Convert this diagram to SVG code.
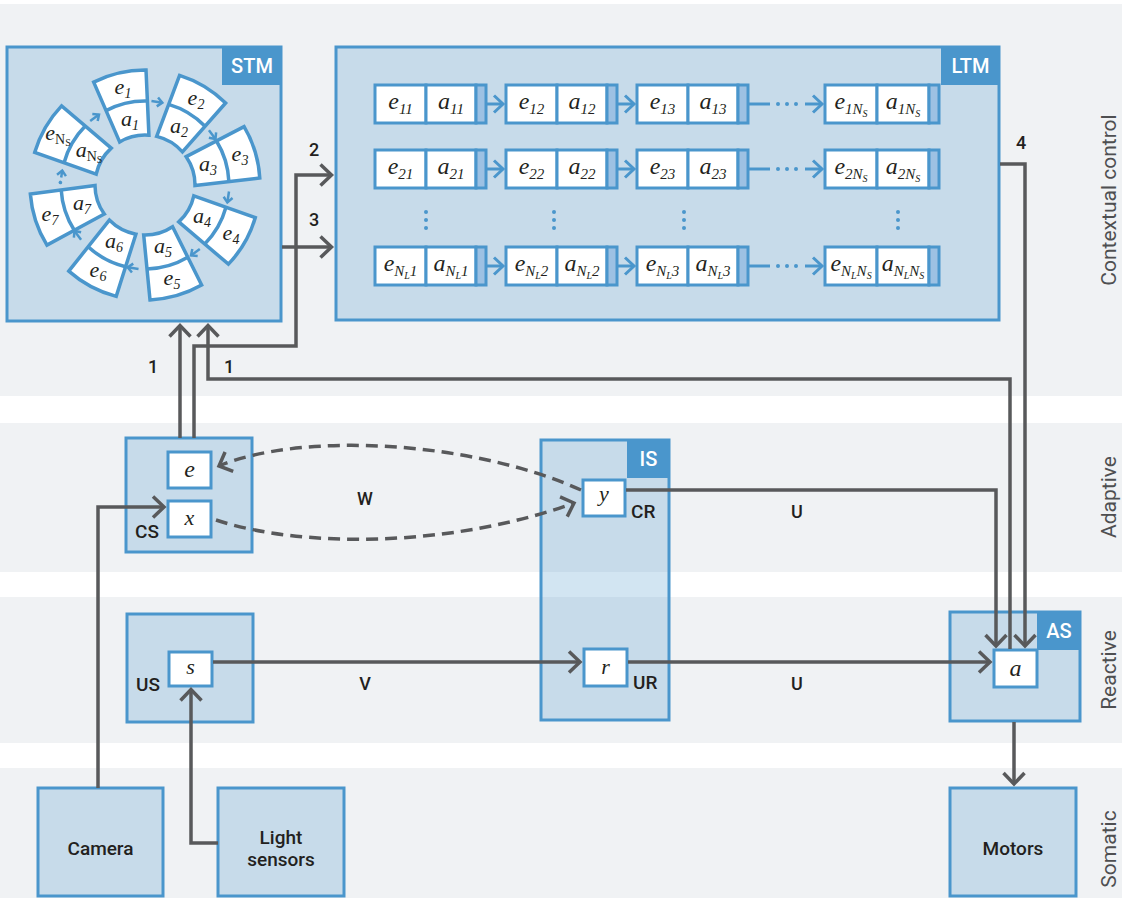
<svg xmlns="http://www.w3.org/2000/svg" xmlns:xlink="http://www.w3.org/1999/xlink" width="1122" height="898" viewBox="0 0 1122 898">
<defs>
<style>
.band{fill:#f0f2f4}
.node{fill:#4a96cc;fill-opacity:0.25;stroke:#4a96cc;stroke-width:3}
.tagbox{fill:#4a96cc}
.cell{fill:#fff;stroke:#4a96cc;stroke-width:3}
.bar{fill:#9dc1e3;stroke:#4a96cc;stroke-width:3}
.tile{fill:#fff;stroke:#4a96cc;stroke-width:3.5;stroke-linejoin:miter}
.div{fill:none;stroke:#4a96cc;stroke-width:3.5}
.blink{fill:none;stroke:#4a96cc;stroke-width:3}
.rlink{fill:none;stroke:#4a96cc;stroke-width:2.5}
.bdot{fill:#4a96cc}
.wire{fill:none;stroke:#58595b;stroke-width:3.5;stroke-linejoin:miter}
.dash{stroke-dasharray:12 7}
.sans{font-family:Roboto,"Liberation Sans",Arial,sans-serif}
.lbl{font-size:19px;font-weight:500;fill:#231f20}
.num{font-size:18px;font-weight:500;fill:#231f20;text-anchor:middle}
.tag{font-size:20px;font-weight:500;fill:#fff;text-anchor:middle}
.bandlbl{font-size:21px;fill:#4e4f51;text-anchor:middle}
.math{font-family:"Liberation Serif","Times New Roman",serif;font-style:italic;fill:#231f20;text-anchor:middle}
.m24{font-size:24px}
.m22{font-size:22px}
.sub{font-size:15px}
.ssub{font-size:10px}
.rsub{font-size:14px}
.up{font-style:normal}
</style>
<marker id="ah-gray" viewBox="-16 -16 32 32" markerWidth="32" markerHeight="32" refX="0" refY="0" orient="auto" markerUnits="userSpaceOnUse">
<path d="M -11 -10.5 L 0 0 L -11 10.5" fill="none" stroke="#58595b" stroke-width="3.5"/>
</marker>
<marker id="ah-blue" viewBox="-14 -14 28 28" markerWidth="28" markerHeight="28" refX="0" refY="0" orient="auto" markerUnits="userSpaceOnUse">
<path d="M -9 -8.5 L 0 0 L -9 8.5" fill="none" stroke="#4a96cc" stroke-width="3"/>
</marker>
<marker id="ah-ring" viewBox="-8 -8 16 16" markerWidth="16" markerHeight="16" refX="0" refY="0" orient="auto" markerUnits="userSpaceOnUse">
<path d="M -5 -4.5 L 0 0 L -5 4.5" fill="none" stroke="#4a96cc" stroke-width="2.5"/>
</marker>
<!-- one ring tile, pointing up, centred on the ring centre -->
<path id="tile" class="tile" d="M -15.04 -47.69 L -26.85 -111.82 A 115 115 0 0 1 26.85 -111.82 L 15.04 -47.69 A 50 50 0 0 0 -15.04 -47.69 Z"/>
<path id="tile-div" class="div" d="M -21.22 -81.23 A 84 84 0 0 1 21.22 -81.23"/>
</defs>

<rect x="0" y="0" width="1122" height="898" fill="#fff"/>

<!-- horizontal layers -->
<g id="bands">
<rect class="band" x="0" y="4" width="1122" height="392"/>
<rect class="band" x="0" y="423" width="1122" height="149"/>
<rect class="band" x="0" y="597" width="1122" height="146"/>
<rect class="band" x="0" y="768" width="1122" height="130"/>
</g>
<g id="band-labels" class="sans bandlbl">
<text transform="translate(1116 200) rotate(-90)">Contextual control</text>
<text transform="translate(1116 497) rotate(-90)">Adaptive</text>
<text transform="translate(1116 670) rotate(-90)">Reactive</text>
<text transform="translate(1116 849) rotate(-90)">Somatic</text>
</g>

<!-- short-term memory ring -->
<g id="stm">
<rect class="node" x="7" y="47" width="274" height="274"/>
<rect class="tagbox" x="222" y="46" width="60" height="39"/>
<text class="sans tag" x="252" y="73">STM</text>
<g transform="translate(145 185)">
<g transform="rotate(-13)"><use xlink:href="#tile"/><use xlink:href="#tile-div"/></g>
<g transform="rotate(31)"><use xlink:href="#tile"/><use xlink:href="#tile-div"/></g>
<g transform="rotate(73)"><use xlink:href="#tile"/><use xlink:href="#tile-div"/></g>
<g transform="rotate(120)"><use xlink:href="#tile"/><use xlink:href="#tile-div"/></g>
<g transform="rotate(164)"><use xlink:href="#tile"/><use xlink:href="#tile-div"/></g>
<g transform="rotate(208)"><use xlink:href="#tile"/><use xlink:href="#tile-div"/></g>
<g transform="rotate(252)"><use xlink:href="#tile"/><use xlink:href="#tile-div"/></g>
<g transform="rotate(300)"><use xlink:href="#tile"/><use xlink:href="#tile-div"/></g>
</g>
<g class="math m22">
<text x="123" y="94">e<tspan class="rsub" dy="4">1</tspan></text>
<text x="196" y="105">e<tspan class="rsub" dy="4">2</tspan></text>
<text x="240" y="161">e<tspan class="rsub" dy="4">3</tspan></text>
<text x="231" y="240">e<tspan class="rsub" dy="4">4</tspan></text>
<text x="172" y="285">e<tspan class="rsub" dy="4">5</tspan></text>
<text x="98" y="277">e<tspan class="rsub" dy="4">6</tspan></text>
<text x="50" y="221">e<tspan class="rsub" dy="4">7</tspan></text>
<text x="58" y="140">e<tspan class="rsub up" dy="4">N</tspan><tspan class="ssub up" dy="2">S</tspan></text>
<text x="130" y="126">a<tspan class="rsub" dy="4">1</tspan></text>
<text x="179" y="133">a<tspan class="rsub" dy="4">2</tspan></text>
<text x="208" y="171">a<tspan class="rsub" dy="4">3</tspan></text>
<text x="202" y="223">a<tspan class="rsub" dy="4">4</tspan></text>
<text x="163" y="253">a<tspan class="rsub" dy="4">5</tspan></text>
<text x="114" y="248">a<tspan class="rsub" dy="4">6</tspan></text>
<text x="82" y="210">a<tspan class="rsub" dy="4">7</tspan></text>
<text x="89" y="157">a<tspan class="rsub up" dy="4">N</tspan><tspan class="ssub up" dy="2">S</tspan></text>
</g>
<g id="stm-ring-links">
<path class="rlink" d="M -6 0 H 5" marker-end="url(#ah-ring)" transform="translate(157.4 101.9) rotate(8.5)"/>
<path class="rlink" d="M -6 0 H 5" marker-end="url(#ah-ring)" transform="translate(212.5 135) rotate(53.5)"/>
<path class="rlink" d="M -6 0 H 5" marker-end="url(#ah-ring)" transform="translate(228.1 197.4) rotate(98.5)"/>
<path class="rlink" d="M -6 0 H 5" marker-end="url(#ah-ring)" transform="translate(195 252.5) rotate(143.5)"/>
<path class="rlink" d="M -6 0 H 5" marker-end="url(#ah-ring)" transform="translate(132.6 268.1) rotate(188.5)"/>
<path class="rlink" d="M -6 0 H 5" marker-end="url(#ah-ring)" transform="translate(77.5 235) rotate(233.5)"/>
<g transform="translate(61.5 175.5) rotate(278.5)">
<circle class="bdot" cx="-7" cy="0" r="1.8"/>
<path class="rlink" d="M -2 0 H 5" marker-end="url(#ah-ring)"/>
</g>
<path class="rlink" d="M -6 0 H 5" marker-end="url(#ah-ring)" transform="translate(95 117.5) rotate(323.5)"/>
</g>
</g>

<!-- long-term memory: rows of event/action pairs -->
<g id="ltm">
<rect class="node" x="336" y="47" width="663" height="273"/>
<rect class="tagbox" x="941" y="46" width="59" height="39"/>
<text class="sans tag" x="970.5" y="73">LTM</text>

<g class="math m24">
<!-- row 1 -->
<g transform="translate(375 85)"><rect class="cell" width="51" height="38"/><rect class="cell" x="51" width="50" height="38"/><rect class="bar" x="101" width="10" height="38"/>
<text x="25.5" y="24">e<tspan class="sub" dy="5">11</tspan></text><text x="76" y="24">a<tspan class="sub" dy="5">11</tspan></text></g>
<g transform="translate(506 85)"><rect class="cell" width="51" height="38"/><rect class="cell" x="51" width="50" height="38"/><rect class="bar" x="101" width="10" height="38"/>
<text x="25.5" y="24">e<tspan class="sub" dy="5">12</tspan></text><text x="76" y="24">a<tspan class="sub" dy="5">12</tspan></text></g>
<g transform="translate(637 85)"><rect class="cell" width="51" height="38"/><rect class="cell" x="51" width="50" height="38"/><rect class="bar" x="101" width="10" height="38"/>
<text x="25.5" y="24">e<tspan class="sub" dy="5">13</tspan></text><text x="76" y="24">a<tspan class="sub" dy="5">13</tspan></text></g>
<g transform="translate(825 85)"><rect class="cell" width="52" height="38"/><rect class="cell" x="52" width="52" height="38"/><rect class="bar" x="104" width="10" height="38"/>
<text x="26" y="24">e<tspan class="sub" dy="5">1N</tspan><tspan class="ssub" dy="3">S</tspan></text><text x="78" y="24">a<tspan class="sub" dy="5">1N</tspan><tspan class="ssub" dy="3">S</tspan></text></g>
<!-- row 2 -->
<g transform="translate(375 150)"><rect class="cell" width="51" height="38"/><rect class="cell" x="51" width="50" height="38"/><rect class="bar" x="101" width="10" height="38"/>
<text x="25.5" y="24">e<tspan class="sub" dy="5">21</tspan></text><text x="76" y="24">a<tspan class="sub" dy="5">21</tspan></text></g>
<g transform="translate(506 150)"><rect class="cell" width="51" height="38"/><rect class="cell" x="51" width="50" height="38"/><rect class="bar" x="101" width="10" height="38"/>
<text x="25.5" y="24">e<tspan class="sub" dy="5">22</tspan></text><text x="76" y="24">a<tspan class="sub" dy="5">22</tspan></text></g>
<g transform="translate(637 150)"><rect class="cell" width="51" height="38"/><rect class="cell" x="51" width="50" height="38"/><rect class="bar" x="101" width="10" height="38"/>
<text x="25.5" y="24">e<tspan class="sub" dy="5">23</tspan></text><text x="76" y="24">a<tspan class="sub" dy="5">23</tspan></text></g>
<g transform="translate(825 150)"><rect class="cell" width="52" height="38"/><rect class="cell" x="52" width="52" height="38"/><rect class="bar" x="104" width="10" height="38"/>
<text x="26" y="24">e<tspan class="sub" dy="5">2N</tspan><tspan class="ssub" dy="3">S</tspan></text><text x="78" y="24">a<tspan class="sub" dy="5">2N</tspan><tspan class="ssub" dy="3">S</tspan></text></g>
<!-- last row -->
<g transform="translate(375 247)"><rect class="cell" width="51" height="38"/><rect class="cell" x="51" width="50" height="38"/><rect class="bar" x="101" width="10" height="38"/>
<text x="25.5" y="24">e<tspan class="sub" dy="5">N</tspan><tspan class="ssub" dy="3">L</tspan><tspan class="sub" dy="-3">1</tspan></text><text x="76" y="24">a<tspan class="sub" dy="5">N</tspan><tspan class="ssub" dy="3">L</tspan><tspan class="sub" dy="-3">1</tspan></text></g>
<g transform="translate(506 247)"><rect class="cell" width="51" height="38"/><rect class="cell" x="51" width="50" height="38"/><rect class="bar" x="101" width="10" height="38"/>
<text x="25.5" y="24">e<tspan class="sub" dy="5">N</tspan><tspan class="ssub" dy="3">L</tspan><tspan class="sub" dy="-3">2</tspan></text><text x="76" y="24">a<tspan class="sub" dy="5">N</tspan><tspan class="ssub" dy="3">L</tspan><tspan class="sub" dy="-3">2</tspan></text></g>
<g transform="translate(637 247)"><rect class="cell" width="51" height="38"/><rect class="cell" x="51" width="50" height="38"/><rect class="bar" x="101" width="10" height="38"/>
<text x="25.5" y="24">e<tspan class="sub" dy="5">N</tspan><tspan class="ssub" dy="3">L</tspan><tspan class="sub" dy="-3">3</tspan></text><text x="76" y="24">a<tspan class="sub" dy="5">N</tspan><tspan class="ssub" dy="3">L</tspan><tspan class="sub" dy="-3">3</tspan></text></g>
<g transform="translate(825 247)"><rect class="cell" width="52" height="38"/><rect class="cell" x="52" width="52" height="38"/><rect class="bar" x="104" width="10" height="38"/>
<text x="26" y="24">e<tspan class="sub" dy="5">N</tspan><tspan class="ssub" dy="3">L</tspan><tspan class="sub" dy="-3">N</tspan><tspan class="ssub" dy="3">S</tspan></text><text x="78" y="24">a<tspan class="sub" dy="5">N</tspan><tspan class="ssub" dy="3">L</tspan><tspan class="sub" dy="-3">N</tspan><tspan class="ssub" dy="3">S</tspan></text></g>
</g>

<!-- links along each row -->
<g id="ltm-links">
<path class="blink" d="M 486 104 H 503" marker-end="url(#ah-blue)"/>
<path class="blink" d="M 617 104 H 634" marker-end="url(#ah-blue)"/>
<path class="blink" d="M 748 104 H 770"/>
<path class="blink" d="M 805 104 H 822" marker-end="url(#ah-blue)"/>
<path class="blink" d="M 486 169 H 503" marker-end="url(#ah-blue)"/>
<path class="blink" d="M 617 169 H 634" marker-end="url(#ah-blue)"/>
<path class="blink" d="M 748 169 H 770"/>
<path class="blink" d="M 805 169 H 822" marker-end="url(#ah-blue)"/>
<path class="blink" d="M 486 266 H 503" marker-end="url(#ah-blue)"/>
<path class="blink" d="M 617 266 H 634" marker-end="url(#ah-blue)"/>
<path class="blink" d="M 748 266 H 770"/>
<path class="blink" d="M 805 266 H 822" marker-end="url(#ah-blue)"/>
</g>
<g id="ltm-ellipses">
<circle class="bdot" cx="778" cy="104" r="2"/><circle class="bdot" cx="787" cy="104" r="2"/><circle class="bdot" cx="796" cy="104" r="2"/>
<circle class="bdot" cx="778" cy="169" r="2"/><circle class="bdot" cx="787" cy="169" r="2"/><circle class="bdot" cx="796" cy="169" r="2"/>
<circle class="bdot" cx="778" cy="266" r="2"/><circle class="bdot" cx="787" cy="266" r="2"/><circle class="bdot" cx="796" cy="266" r="2"/>
<circle class="bdot" cx="426" cy="212" r="2"/><circle class="bdot" cx="426" cy="220" r="2"/><circle class="bdot" cx="426" cy="228" r="2"/>
<circle class="bdot" cx="554" cy="212" r="2"/><circle class="bdot" cx="554" cy="220" r="2"/><circle class="bdot" cx="554" cy="228" r="2"/>
<circle class="bdot" cx="684" cy="212" r="2"/><circle class="bdot" cx="684" cy="220" r="2"/><circle class="bdot" cx="684" cy="228" r="2"/>
<circle class="bdot" cx="898" cy="212" r="2"/><circle class="bdot" cx="898" cy="220" r="2"/><circle class="bdot" cx="898" cy="228" r="2"/>
</g>
</g>

<!-- adaptive layer -->
<g id="cs">
<rect class="node" x="126" y="438" width="126" height="114"/>
<rect class="cell" x="168" y="452" width="43" height="36"/>
<rect class="cell" x="168" y="501" width="43" height="36"/>
<text class="math m24" x="189.5" y="477">e</text>
<text class="math m22" x="189.5" y="525">x</text>
<text class="sans lbl" x="135" y="538">CS</text>
</g>
<g id="is">
<rect class="node" x="541" y="440" width="128" height="280"/>
<rect class="tagbox" x="627" y="439" width="43" height="39"/>
<text class="sans tag" x="648.5" y="466">IS</text>
<rect class="cell" x="583" y="480" width="42" height="36"/>
<text class="math m22" x="604" y="501">y</text>
<text class="sans lbl" x="631" y="518">CR</text>
<rect class="cell" x="584" y="649" width="43" height="37"/>
<text class="math m22" x="605.5" y="674">r</text>
<text class="sans lbl" x="633" y="689">UR</text>
</g>

<!-- reactive layer -->
<g id="us">
<rect class="node" x="127" y="614" width="126" height="108"/>
<rect class="cell" x="169" y="652" width="43" height="34"/>
<text class="math m22" x="190.5" y="674">s</text>
<text class="sans lbl" x="136" y="691">US</text>
</g>
<g id="as">
<rect class="node" x="950" y="612" width="130" height="109"/>
<rect class="tagbox" x="1037" y="611" width="44" height="39"/>
<text class="sans tag" x="1059" y="638">AS</text>
<rect class="cell" x="994" y="650" width="43" height="37"/>
<text class="math m24" x="1015.5" y="676">a</text>
</g>

<!-- somatic layer -->
<g id="camera">
<rect class="node" x="38" y="788" width="125" height="108"/>
<text class="sans lbl" x="100.5" y="855" text-anchor="middle">Camera</text>
</g>
<g id="light-sensors">
<rect class="node" x="218" y="788" width="126" height="108"/>
<text class="sans lbl" x="281" y="844" text-anchor="middle">Light</text>
<text class="sans lbl" x="281" y="866" text-anchor="middle">sensors</text>
</g>
<g id="motors">
<rect class="node" x="950" y="788" width="126" height="108"/>
<text class="sans lbl" x="1013" y="855" text-anchor="middle">Motors</text>
</g>

<!-- connectors -->
<g id="connectors">
<path class="wire" d="M 180 438 V 325.5" marker-end="url(#ah-gray)"/>
<path class="wire" d="M 194 438 V 346 H 296 V 175 H 331.5" marker-end="url(#ah-gray)"/>
<path class="wire" d="M 1010 649 V 379 H 208 V 325.5" marker-end="url(#ah-gray)"/>
<path class="wire" d="M 282 247 H 331.5" marker-end="url(#ah-gray)"/>
<path class="wire" d="M 1000 164 H 1025 V 646" marker-end="url(#ah-gray)"/>
<path class="wire" d="M 626 490 H 996 V 646" marker-end="url(#ah-gray)"/>
<path class="wire" d="M 98 788 V 507 H 164" marker-end="url(#ah-gray)"/>
<path class="wire" d="M 218 843 H 191 V 689.5" marker-end="url(#ah-gray)"/>
<path class="wire" d="M 213 662 H 580" marker-end="url(#ah-gray)"/>
<path class="wire" d="M 628 662 H 990" marker-end="url(#ah-gray)"/>
<path class="wire" d="M 1014 722 V 784" marker-end="url(#ah-gray)"/>
<path class="wire dash" d="M 581 490 C 470 440 300 432 219 466" marker-end="url(#ah-gray)"/>
<path class="wire dash" d="M 216 520 C 300 548 450 548 574 503" marker-end="url(#ah-gray)"/>
</g>
<g id="connector-labels" class="sans num">
<text x="153" y="373">1</text>
<text x="229" y="373">1</text>
<text x="314" y="156">2</text>
<text x="314" y="226">3</text>
<text x="1021" y="149">4</text>
<text x="365" y="505">W</text>
<text x="797" y="518">U</text>
<text x="365" y="690">V</text>
<text x="797" y="690">U</text>
</g>
</svg>
